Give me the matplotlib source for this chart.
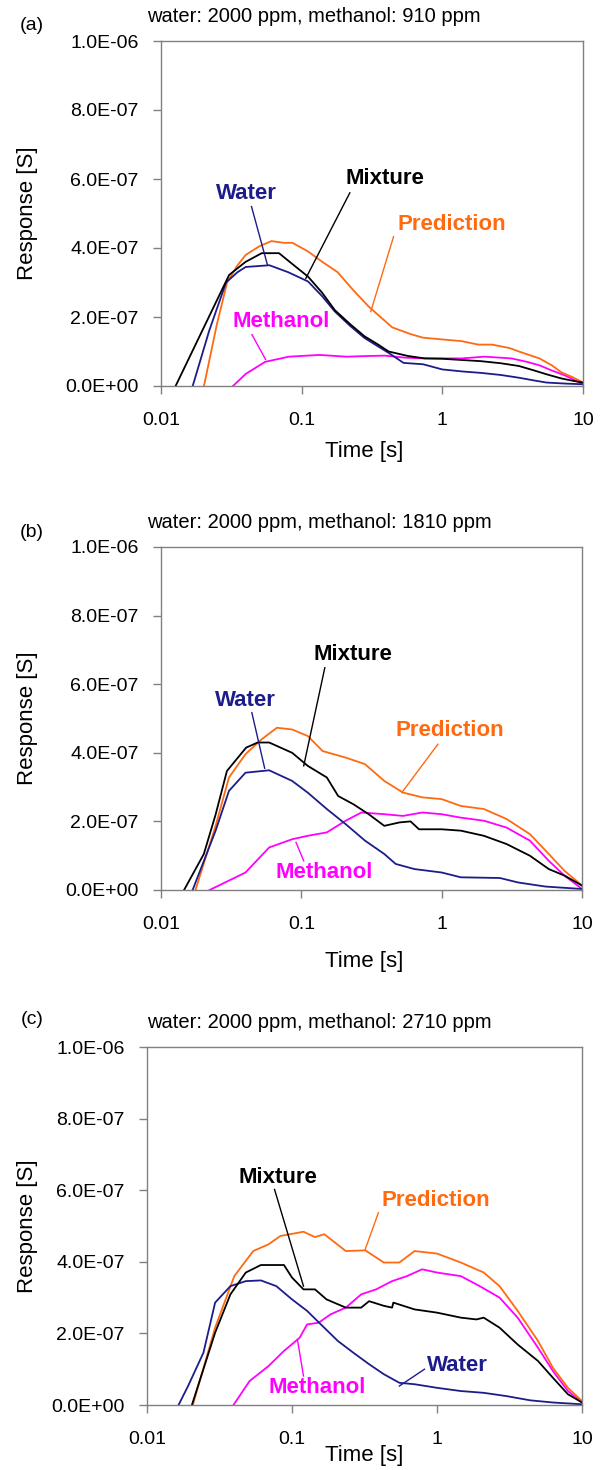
import numpy as np
import matplotlib.pyplot as plt

plt.rcParams['font.family'] = ['Liberation Sans', 'DejaVu Sans']

# --- data (time in s, response in units of 1e-7 S) ---
# (a) water 2000 ppm, methanol 910 ppm
mix_a_t = [0.0127, 0.0305, 0.040, 0.052, 0.069, 0.085, 0.111, 0.140, 0.172, 0.22, 0.28, 0.35, 0.415,
           0.57, 0.75, 1.0, 1.3, 1.88, 2.6, 3.5, 4.5, 5.5, 7.0, 8.5, 10]
mix_a_v = [0, 3.22, 3.6, 3.85, 3.85, 3.55, 3.17, 2.7, 2.2, 1.8, 1.44, 1.2, 1.0,
           0.87, 0.8, 0.79, 0.76, 0.72, 0.66, 0.58, 0.45, 0.34, 0.22, 0.15, 0.1]
water_a_t = [0.0168, 0.022, 0.029, 0.035, 0.040, 0.059, 0.08, 0.111, 0.14, 0.172, 0.22, 0.28, 0.415,
             0.53, 0.73, 1.0, 1.4, 1.88, 2.6, 3.5, 4.5, 5.5, 7.5, 10]
water_a_v = [0, 1.6, 3.0, 3.3, 3.45, 3.5, 3.3, 3.03, 2.6, 2.16, 1.75, 1.39, 0.96,
             0.67, 0.63, 0.48, 0.42, 0.38, 0.32, 0.24, 0.16, 0.1, 0.07, 0.05]
pred_a_t = [0.0202, 0.025, 0.0295, 0.035, 0.040, 0.05, 0.061, 0.075, 0.086, 0.111, 0.14, 0.18, 0.23,
            0.30, 0.44, 0.6, 0.73, 1.0, 1.37, 1.8, 2.26, 3.0, 3.5, 4.9, 6.0, 7.0, 8.5, 10]
pred_a_v = [0, 1.8, 3.0, 3.5, 3.8, 4.05, 4.2, 4.15, 4.15, 3.9, 3.6, 3.3, 2.8,
            2.3, 1.7, 1.5, 1.4, 1.35, 1.3, 1.2, 1.2, 1.1, 1.0, 0.8, 0.6, 0.4, 0.25, 0.1]
meth_a_t = [0.0325, 0.04, 0.055, 0.081, 0.134, 0.208, 0.3, 0.39, 0.55, 0.73, 1.0, 1.37, 2.0,
            3.1, 4.0, 4.9, 6.0, 7.5, 10]
meth_a_v = [0, 0.35, 0.7, 0.85, 0.9, 0.85, 0.87, 0.88, 0.82, 0.8, 0.8, 0.8, 0.85,
            0.8, 0.7, 0.6, 0.45, 0.3, 0.05]

# (b) water 2000 ppm, methanol 1810 ppm
mix_b_t = [0.0146, 0.0202, 0.0245, 0.0295, 0.0404, 0.0488, 0.059, 0.086, 0.111, 0.152, 0.183, 0.235,
           0.302, 0.39, 0.5, 0.6, 0.69, 1.0, 1.37, 2.0, 2.9, 4.25, 5.8, 7.5, 10]
mix_b_v = [0, 1.05, 2.2, 3.47, 4.15, 4.3, 4.3, 4.0, 3.62, 3.28, 2.74, 2.5,
           2.21, 1.87, 1.97, 2.0, 1.77, 1.77, 1.73, 1.58, 1.34, 1.0, 0.61, 0.42, 0.13]
water_b_t = [0.0168, 0.0245, 0.0305, 0.040, 0.059, 0.086, 0.111, 0.152, 0.207, 0.284, 0.39, 0.47,
             0.64, 1.0, 1.37, 2.6, 3.5, 5.5, 10]
water_b_v = [0, 1.73, 2.89, 3.42, 3.49, 3.18, 2.84, 2.36, 1.92, 1.44, 1.05, 0.76,
             0.61, 0.51, 0.37, 0.35, 0.22, 0.1, 0.03]
pred_b_t = [0.0176, 0.0245, 0.0305, 0.040, 0.052, 0.067, 0.086, 0.111, 0.142, 0.207, 0.284, 0.39,
            0.53, 0.73, 1.0, 1.37, 2.0, 2.9, 4.25, 5.8, 7.5, 10]
pred_b_v = [0, 1.87, 3.28, 3.96, 4.39, 4.73, 4.68, 4.49, 4.05, 3.86, 3.67, 3.18,
            2.84, 2.7, 2.65, 2.45, 2.36, 2.07, 1.63, 1.05, 0.56, 0.13]
meth_b_t = [0.0222, 0.04, 0.059, 0.086, 0.111, 0.152, 0.207, 0.268, 0.39, 0.53, 0.73, 1.0,
            1.37, 2.0, 2.9, 4.25, 5.8, 7.5, 10]
meth_b_v = [0, 0.51, 1.24, 1.48, 1.58, 1.68, 2.02, 2.26, 2.21, 2.16, 2.26, 2.21,
            2.11, 2.02, 1.82, 1.44, 0.85, 0.42, 0.03]

# (c) water 2000 ppm, methanol 2710 ppm
mix_c_t = [0.0204, 0.0295, 0.0376, 0.048, 0.061, 0.088, 0.1, 0.12, 0.144, 0.173, 0.235, 0.3, 0.34,
           0.43, 0.49, 0.5, 0.7, 1.0, 1.46, 1.87, 2.1, 2.7, 3.6, 4.97, 6.3, 8.0, 10]
mix_c_v = [0, 2.02, 3.09, 3.7, 3.91, 3.91, 3.56, 3.23, 3.23, 2.95, 2.72, 2.72, 2.9,
           2.77, 2.72, 2.86, 2.67, 2.58, 2.44, 2.39, 2.44, 2.16, 1.69, 1.23, 0.76, 0.3, 0.07]
water_c_t = [0.0165, 0.0192, 0.0245, 0.0295, 0.0376, 0.048, 0.061, 0.078, 0.1, 0.127, 0.162, 0.207,
             0.265, 0.34, 0.43, 0.55, 0.7, 1.0, 1.46, 2.1, 3.0, 4.4, 6.3, 10]
water_c_v = [0, 0.53, 1.46, 2.86, 3.32, 3.46, 3.48, 3.32, 2.95, 2.63, 2.21, 1.79,
             1.46, 1.14, 0.86, 0.62, 0.58, 0.48, 0.39, 0.34, 0.25, 0.13, 0.07, 0.02]
pred_c_t = [0.0207, 0.0295, 0.04, 0.054, 0.069, 0.083, 0.12, 0.144, 0.167, 0.235, 0.32, 0.43,
            0.55, 0.7, 1.0, 1.46, 2.1, 2.7, 3.6, 4.97, 6.3, 8.0, 10]
pred_c_v = [0, 2.16, 3.6, 4.3, 4.49, 4.72, 4.84, 4.69, 4.77, 4.3, 4.32, 3.98,
            3.98, 4.3, 4.23, 3.98, 3.7, 3.32, 2.63, 1.79, 1.04, 0.48, 0.11]
meth_c_t = [0.0395, 0.051, 0.069, 0.088, 0.113, 0.127, 0.153, 0.184, 0.235, 0.3, 0.38, 0.49,
            0.62, 0.79, 1.0, 1.46, 1.97, 2.7, 3.6, 4.97, 6.3, 8.0, 10]
meth_c_v = [0, 0.67, 1.09, 1.51, 1.88, 2.25, 2.3, 2.53, 2.72, 3.09, 3.23, 3.46,
            3.6, 3.79, 3.7, 3.6, 3.32, 3.0, 2.44, 1.6, 0.95, 0.39, 0.07]

panel_tags = ['(a)', '(b)', '(c)']
panel_titles = ['water: 2000 ppm, methanol: 910 ppm',
                'water: 2000 ppm, methanol: 1810 ppm',
                'water: 2000 ppm, methanol: 2710 ppm']
y_ticks = [0, 2e-7, 4e-7, 6e-7, 8e-7, 1e-6]
y_ticklabels = ['0.0E+00', '2.0E-07', '4.0E-07', '6.0E-07', '8.0E-07', '1.0E-06']
x_ticks = [0.01, 0.1, 1, 10]
x_ticklabels = ['0.01', '0.1', '1', '10']

colors = {'Water': '#1c1c8a', 'Mixture': 'black', 'Prediction': '#ff6a10', 'Methanol': '#ff00ff'}

series = [
    {'Methanol': (meth_a_t, meth_a_v), 'Prediction': (pred_a_t, pred_a_v),
     'Water': (water_a_t, water_a_v), 'Mixture': (mix_a_t, mix_a_v)},
    {'Methanol': (meth_b_t, meth_b_v), 'Prediction': (pred_b_t, pred_b_v),
     'Water': (water_b_t, water_b_v), 'Mixture': (mix_b_t, mix_b_v)},
    {'Methanol': (meth_c_t, meth_c_v), 'Prediction': (pred_c_t, pred_c_v),
     'Water': (water_c_t, water_c_v), 'Mixture': (mix_c_t, mix_c_v)},
]

# label text centre (t, v) and leader line from -> to, v in 1e-7
labels = [
    {'Water': ((0.0405, 5.58), (0.0440, 5.2), (0.0572, 3.5)),
     'Mixture': ((0.39, 6.0), (0.22, 5.6), (0.107, 3.12)),
     'Prediction': ((1.17, 4.69), (0.45, 4.33), (0.31, 2.16)),
     'Methanol': ((0.0713, 1.88), (0.0443, 1.49), (0.0554, 0.77))},
    {'Water': ((0.040, 5.53), (0.0444, 5.17), (0.0548, 3.55)),
     'Mixture': ((0.233, 6.87), (0.147, 6.48), (0.104, 3.62)),
     'Prediction': ((1.14, 4.66), (0.94, 4.25), (0.52, 2.84)),
     'Methanol': ((0.145, 0.51), (0.104, 0.85), (0.0916, 1.39))},
    {'Water': ((1.377, 1.09), (0.82, 1.0), (0.55, 0.53)),
     'Mixture': ((0.0806, 6.35), (0.0758, 6.02), (0.12, 3.32)),
     'Prediction': ((0.984, 5.72), (0.394, 5.37), (0.32, 4.35)),
     'Methanol': ((0.148, 0.48), (0.12, 0.81), (0.109, 1.83))},
]

# axes boxes in pixels: left, top, right, bottom
W, H = 603, 1470
boxes = [(161, 41, 583, 386), (161, 547, 582, 890), (147, 1047, 582, 1405)]
tag_y = [26, 532, 1020]
title_y = [17, 522, 1023]
xlabel_y = [452, 962, 1455]

fig = plt.figure(figsize=(W / 100, H / 100), dpi=100)

for i in range(3):
    l, t, r, b = boxes[i]
    ax = fig.add_axes([l / W, 1 - b / H, (r - l) / W, (b - t) / H])
    for name, (xs, ys) in series[i].items():
        ax.plot(xs, np.array(ys) * 1e-7, color=colors[name], lw=1.3)
    for name, (txt, p0, p1) in labels[i].items():
        ax.plot([p0[0], p1[0]], [p0[1] * 1e-7, p1[1] * 1e-7], color=colors[name], lw=1.0)
        ax.text(txt[0], txt[1] * 1e-7, name, color=colors[name], fontsize=16,
                fontweight='bold', ha='center', va='center')
    ax.set_xscale('log')
    ax.set_xlim(0.01, 10)
    ax.set_ylim(0, 1e-6)
    ax.set_xticks(x_ticks)
    ax.set_xticklabels(x_ticklabels)
    ax.minorticks_off()
    ax.set_yticks(y_ticks)
    ax.set_yticklabels(y_ticklabels)
    ax.tick_params(axis='both', labelsize=14, length=6, color='#808080', width=1)
    ax.tick_params(axis='x', pad=13)
    ax.tick_params(axis='y', pad=10)
    for sp in ax.spines.values():
        sp.set_color('#808080')
        sp.set_linewidth(1)
    ax.set_ylabel('Response [S]', fontsize=16, va='center')
    ax.yaxis.set_label_coords((27 - l) / (r - l), 0.5)
    fig.text(364 / W, 1 - xlabel_y[i] / H, 'Time [s]', fontsize=16,
             ha='center', va='center')
    fig.text(32 / W, 1 - tag_y[i] / H, panel_tags[i], fontsize=14, ha='center', va='center')
    fig.text(147 / W, 1 - title_y[i] / H, panel_titles[i], fontsize=14.5, ha='left', va='center')

fig.savefig('out.png', dpi=100)
